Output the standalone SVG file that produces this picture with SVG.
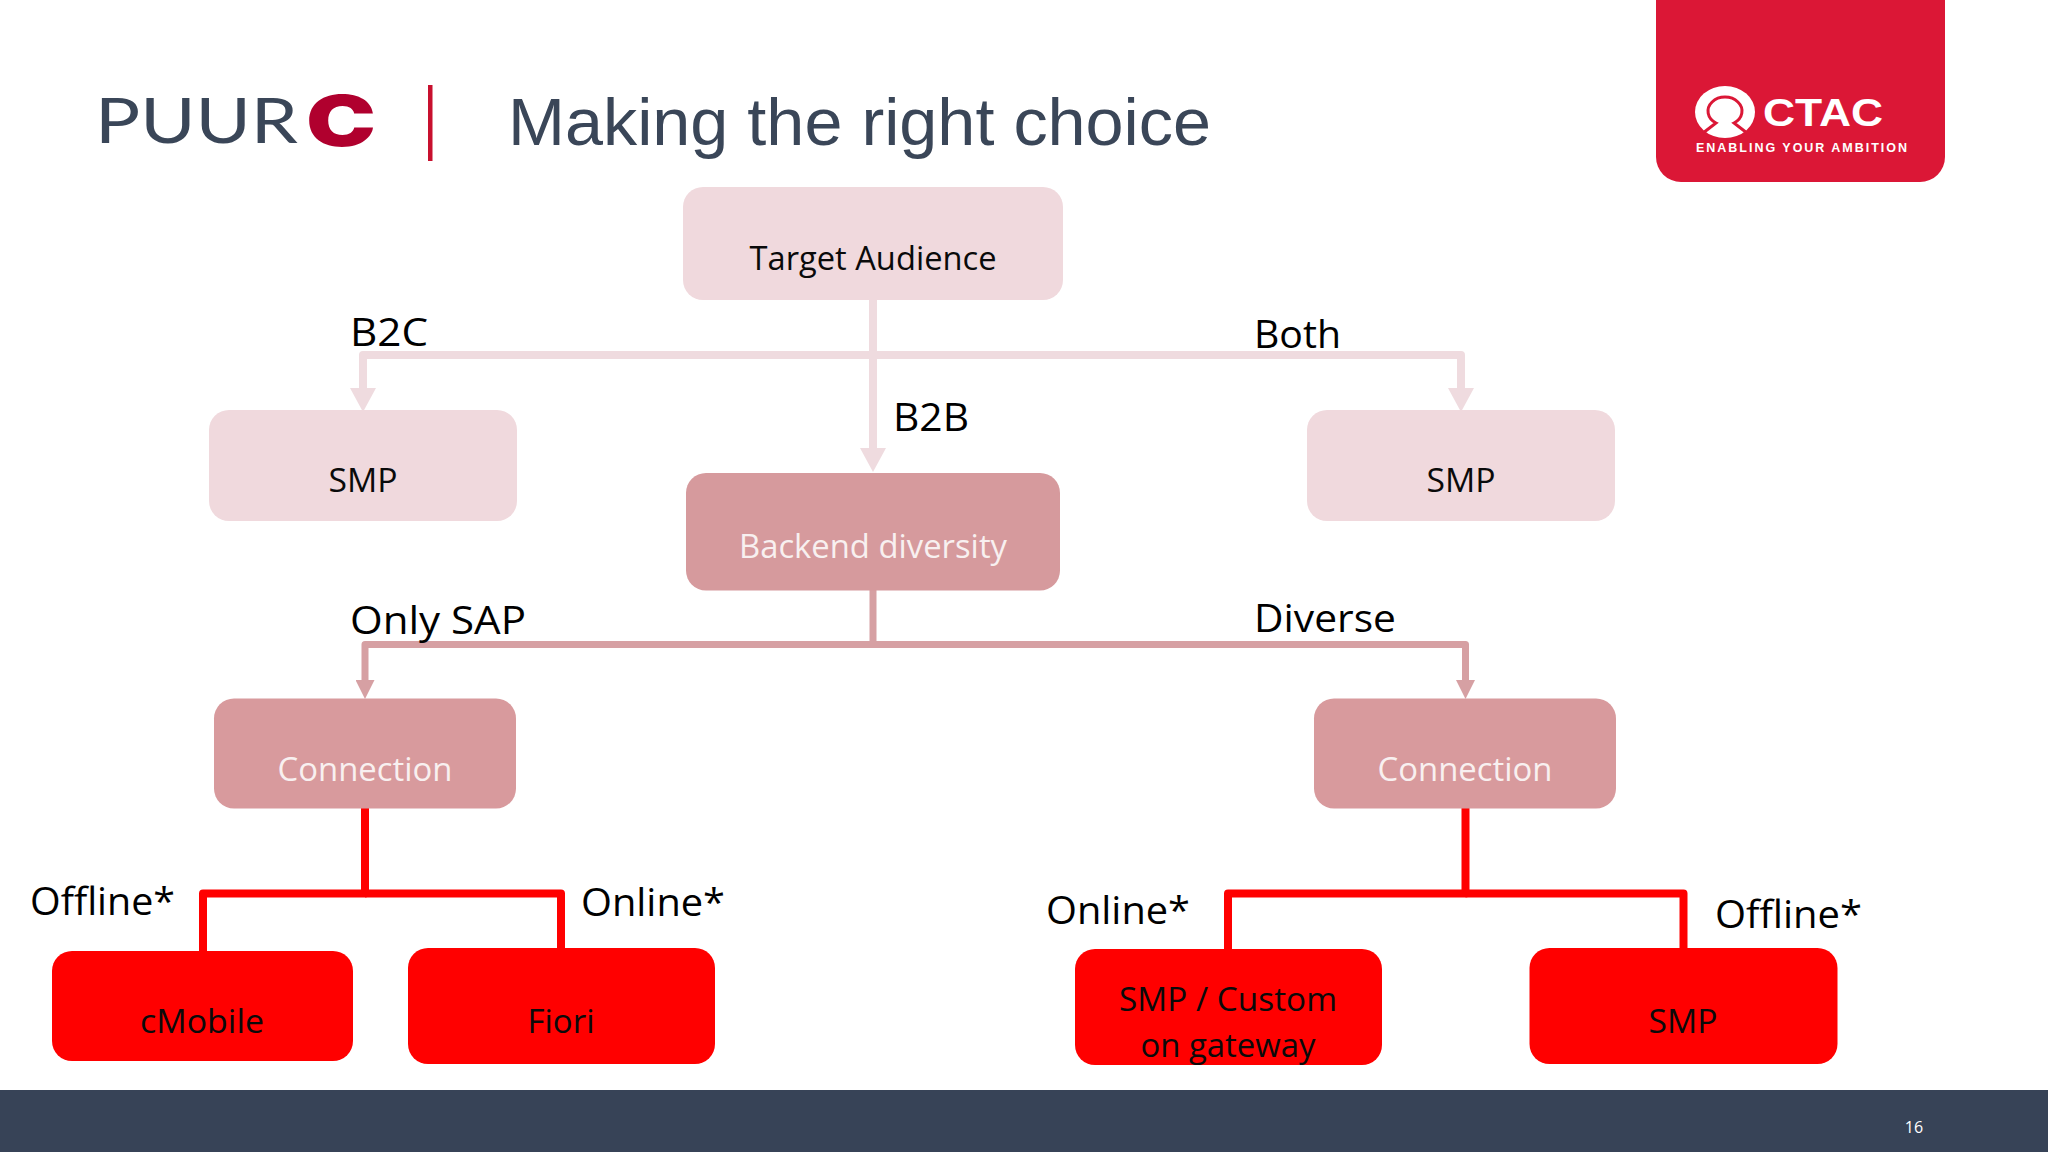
<svg xmlns="http://www.w3.org/2000/svg" width="2048" height="1152" viewBox="0 0 2048 1152">
<style>
text{font-family:"Open Sans","Noto Sans","Liberation Sans",sans-serif}
.lbl{font-size:38.500px;fill:#000}
.dk{font-size:32.500px;fill:#0a0a0a;text-anchor:middle}
.lt{font-size:32.500px;fill:#f8f0f0;text-anchor:middle}
.head{font-family:"Liberation Sans",Arial,sans-serif;fill:#3a4658}
.l1{fill:#f0d9dd}.l2{fill:#d69a9d}.l3{fill:#d89a9d}.l4{fill:#ff0000}
.c1,.c2,.c3{fill:none;stroke-width:8;stroke-linejoin:round}
.c1{stroke:#efdbdf}.c2{stroke:#d6a0a3;stroke-width:7}.c3{stroke:#ff0000}
</style>
<defs>
<marker id="a1" markerUnits="userSpaceOnUse" markerWidth="24" markerHeight="26" viewBox="0 0 24 26" refX="0" refY="13" orient="auto"><path d="M0 0L24 13L0 26z" fill="#efdbdf"/></marker>
<marker id="a2" markerUnits="userSpaceOnUse" markerWidth="19" markerHeight="19" viewBox="0 0 19 19" refX="0" refY="9.500" orient="auto"><path d="M0 0L19 9.500L0 19z" fill="#d6a0a3"/></marker>
</defs>
<rect width="2048" height="1152" fill="#ffffff"/>
<g id="header">
<text x="95" y="143" font-size="62" fill="#3a4658" textLength="203" lengthAdjust="spacingAndGlyphs" style="font-family:Lato,'Liberation Sans',sans-serif;font-weight:400">PUUR</text>
<text x="306" y="146" font-size="70" textLength="70" lengthAdjust="spacingAndGlyphs" fill="#b0002e" style="font-family:Inter,'Liberation Sans',sans-serif;font-weight:900">C</text>
<rect x="428" y="85" width="4.500" height="76" fill="#c8102e"/>
<text class="head" x="508" y="145" font-size="67" textLength="703" lengthAdjust="spacingAndGlyphs">Making the right choice</text>
</g>
<g id="ctac-logo">
<path d="M1656 0H1945V157a25 25 0 0 1-25 25H1681a25 25 0 0 1-25-25z" fill="#db1736"/>
<ellipse cx="1725" cy="112" rx="30" ry="26" fill="#fff"/>
<path d="M1703 133L1716 123A17 14 0 1 1 1734 123L1747 133" stroke="#db1736" stroke-width="3" fill="none"/>
<text x="1763" y="126" font-size="39" font-weight="700" fill="#fff" textLength="120" lengthAdjust="spacingAndGlyphs" style="font-family:'Liberation Sans',sans-serif">CTAC</text>
<text x="1696" y="152" font-size="12.500" font-weight="700" fill="#fff" textLength="211" style="font-family:'Liberation Sans',sans-serif">ENABLING YOUR AMBITION</text>
</g>
<g id="connectors">
<path class="c1" d="M873 299V448" marker-end="url(#a1)"/>
<path class="c1" d="M873 355H363V388" marker-end="url(#a1)"/>
<path class="c1" d="M873 355H1461V388" marker-end="url(#a1)"/>
<path class="c2" d="M873 590V644.500H365V680" marker-end="url(#a2)"/>
<path class="c2" d="M873 644.500H1465.500V680" marker-end="url(#a2)"/>
<path class="c3" d="M365 808V893.500H203V951"/>
<path class="c3" d="M365 893.500H561V948"/>
<path class="c3" d="M1465.500 808V893.500H1228V949"/>
<path class="c3" d="M1465.500 893.500H1683.500V948"/>
</g>
<g id="edge-labels">
<text class="lbl" x="350" y="346" textLength="78" lengthAdjust="spacingAndGlyphs">B2C</text>
<text class="lbl" x="1254" y="348" textLength="87" lengthAdjust="spacingAndGlyphs">Both</text>
<text class="lbl" x="893" y="431" textLength="76" lengthAdjust="spacingAndGlyphs">B2B</text>
<text class="lbl" x="350" y="634" textLength="176" lengthAdjust="spacingAndGlyphs">Only SAP</text>
<text class="lbl" x="1254" y="632" textLength="142" lengthAdjust="spacingAndGlyphs">Diverse</text>
<text class="lbl" x="30" y="915" textLength="145" lengthAdjust="spacingAndGlyphs">Offline*</text>
<text class="lbl" x="581" y="916" textLength="144" lengthAdjust="spacingAndGlyphs">Online*</text>
<text class="lbl" x="1046" y="924" textLength="144" lengthAdjust="spacingAndGlyphs">Online*</text>
<text class="lbl" x="1715" y="928" textLength="147" lengthAdjust="spacingAndGlyphs">Offline*</text>
</g>
<g id="target-audience"><rect class="l1" x="683" y="187" width="380" height="113" rx="20"/><text class="dk" x="873" y="270" textLength="247" lengthAdjust="spacingAndGlyphs">Target Audience</text></g>
<g id="smp-b2c"><rect class="l1" x="209" y="410" width="308" height="111" rx="20"/><text class="dk" x="363" y="492" textLength="69" lengthAdjust="spacingAndGlyphs">SMP</text></g>
<g id="smp-both"><rect class="l1" x="1307" y="410" width="308" height="111" rx="20"/><text class="dk" x="1461" y="492" textLength="69" lengthAdjust="spacingAndGlyphs">SMP</text></g>
<g id="backend-diversity"><rect class="l2" x="686" y="473" width="374" height="117.500" rx="20"/><text class="lt" x="873" y="558" textLength="268" lengthAdjust="spacingAndGlyphs">Backend diversity</text></g>
<g id="connection-sap"><rect class="l3" x="214" y="698.500" width="302" height="110" rx="20"/><text class="lt" x="365" y="781" textLength="175" lengthAdjust="spacingAndGlyphs">Connection</text></g>
<g id="connection-diverse"><rect class="l3" x="1314" y="698.500" width="302" height="110" rx="20"/><text class="lt" x="1465" y="781" textLength="175" lengthAdjust="spacingAndGlyphs">Connection</text></g>
<g id="cmobile"><rect class="l4" x="52" y="951" width="301" height="110" rx="20"/><text class="dk" x="202" y="1033" textLength="124" lengthAdjust="spacingAndGlyphs">cMobile</text></g>
<g id="fiori"><rect class="l4" x="408" y="948" width="307" height="116" rx="20"/><text class="dk" x="561" y="1033" textLength="67" lengthAdjust="spacingAndGlyphs">Fiori</text></g>
<g id="smp-custom"><rect class="l4" x="1075" y="949" width="307" height="116" rx="20"/><text class="dk" x="1228" y="1011" textLength="218" lengthAdjust="spacingAndGlyphs">SMP / Custom</text><text class="dk" x="1228" y="1057" textLength="175" lengthAdjust="spacingAndGlyphs">on gateway</text></g>
<g id="smp-offline"><rect class="l4" x="1529.500" y="948" width="308" height="116" rx="20"/><text class="dk" x="1683" y="1033" textLength="69" lengthAdjust="spacingAndGlyphs">SMP</text></g>
<g id="footer"><rect x="0" y="1090" width="2048" height="62" fill="#374357"/><text x="1914" y="1132.500" font-size="16" fill="#fff" text-anchor="middle">16</text></g>
</svg>
